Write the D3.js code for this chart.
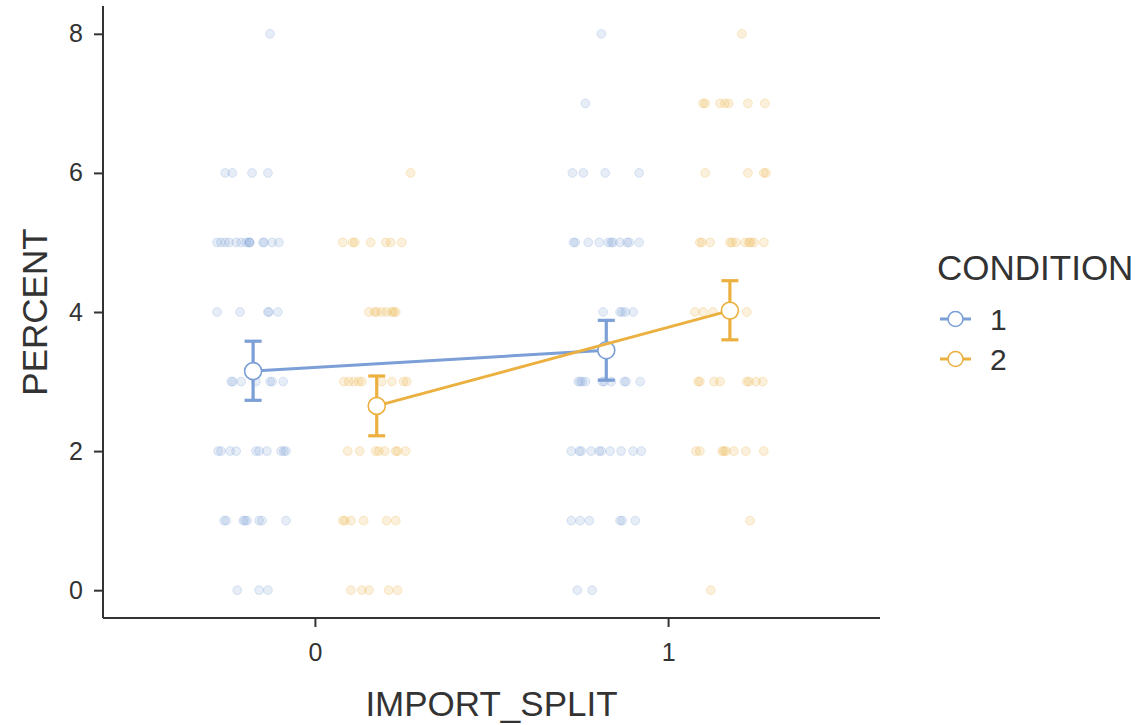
<!DOCTYPE html>
<html>
<head>
<meta charset="utf-8">
<script src="https://cdn.jsdelivr.net/npm/d3@7"></script>
<style>
  html, body { margin: 0; padding: 0; background: #fff; }
  svg { display: block; font-family: "Liberation Sans", Arial, Helvetica, sans-serif; }
</style>
</head>
<body>
<svg id="chart" width="1142" height="725"></svg>
<script>
// ---------- DATA ----------
const conditions = ["1", "2"];
const importSplit = [0, 1];
const yTicks = [0, 2, 4, 6, 8];
const xTickLabels = ["0", "1"];
const dodge = 0.175;

// group means and error bar bounds, index: [import_split]
const meanC1 = [3.15, 3.45];
const lowC1 = [2.73, 3.02];
const highC1 = [3.58, 3.88];
const meanC2 = [2.65, 4.02];
const lowC2 = [2.22, 3.60];
const highC2 = [3.08, 4.45];

// jittered raw observations: x (jittered IMPORT_SPLIT position), y (PERCENT)
const c1s0X = [-0.127,
  -0.254, -0.234, -0.178, -0.133,
  -0.277, -0.266, -0.254, -0.243, -0.223, -0.209, -0.195, -0.186, -0.186, -0.184, -0.147, -0.144, -0.121, -0.102,
  -0.277, -0.212, -0.133, -0.130, -0.105,
  -0.237, -0.232, -0.209, -0.167, -0.127, -0.121, -0.090,
  -0.274, -0.266, -0.240, -0.223, -0.167, -0.158, -0.136, -0.096, -0.088, -0.082,
  -0.257, -0.251, -0.203, -0.198, -0.192, -0.158, -0.150, -0.082,
  -0.220, -0.158, -0.133];
const c1s0Y = [8,
  6, 6, 6, 6,
  5, 5, 5, 5, 5, 5, 5, 5, 5, 5, 5, 5, 5, 5,
  4, 4, 4, 4, 4,
  3, 3, 3, 3, 3, 3, 3,
  2, 2, 2, 2, 2, 2, 2, 2, 2, 2,
  1, 1, 1, 1, 1, 1, 1, 1,
  0, 0, 0];

const c2s0X = [0.271,
  0.079, 0.107, 0.113, 0.158, 0.201, 0.215, 0.246,
  0.153, 0.169, 0.175, 0.189, 0.203, 0.218, 0.223, 0.229,
  0.082, 0.096, 0.110, 0.124, 0.133, 0.189, 0.218, 0.251, 0.260,
  0.093, 0.127, 0.172, 0.181, 0.198, 0.229, 0.234, 0.257,
  0.079, 0.085, 0.102, 0.138, 0.203, 0.229,
  0.102, 0.133, 0.153, 0.209, 0.234];
const c2s0Y = [6,
  5, 5, 5, 5, 5, 5, 5,
  4, 4, 4, 4, 4, 4, 4, 4,
  3, 3, 3, 3, 3, 3, 3, 3, 3,
  2, 2, 2, 2, 2, 2, 2, 2,
  1, 1, 1, 1, 1, 1,
  0, 0, 0, 0, 0];

const c1s1X = [0.811,
  0.766,
  0.729, 0.760, 0.822, 0.918,
  0.732, 0.737, 0.774, 0.805, 0.831, 0.839, 0.844, 0.864, 0.884, 0.890, 0.918,
  0.816, 0.864, 0.870, 0.879, 0.901,
  0.746, 0.751, 0.757, 0.766, 0.814, 0.819, 0.839, 0.876, 0.881, 0.921,
  0.726, 0.749, 0.754, 0.782, 0.805, 0.811, 0.836, 0.867, 0.901, 0.924,
  0.726, 0.751, 0.777, 0.864, 0.870, 0.907,
  0.743, 0.785];
const c1s1Y = [8,
  7,
  6, 6, 6, 6,
  5, 5, 5, 5, 5, 5, 5, 5, 5, 5, 5,
  4, 4, 4, 4, 4,
  3, 3, 3, 3, 3, 3, 3, 3, 3, 3,
  2, 2, 2, 2, 2, 2, 2, 2, 2, 2,
  1, 1, 1, 1, 1, 1,
  0, 0];

const c2s1X = [1.209,
  1.099, 1.105, 1.147, 1.161, 1.172, 1.226, 1.274,
  1.105, 1.226, 1.271, 1.277,
  1.090, 1.096, 1.119, 1.175, 1.181, 1.192, 1.218, 1.229, 1.234, 1.243, 1.271,
  1.076, 1.099, 1.127, 1.223,
  1.085, 1.090, 1.130, 1.147, 1.223, 1.229, 1.249, 1.268,
  1.079, 1.090, 1.153, 1.158, 1.164, 1.186, 1.220, 1.271,
  1.232,
  1.121];
const c2s1Y = [8,
  7, 7, 7, 7, 7, 7, 7,
  6, 6, 6, 6,
  5, 5, 5, 5, 5, 5, 5, 5, 5, 5, 5,
  4, 4, 4, 4,
  3, 3, 3, 3, 3, 3, 3, 3,
  2, 2, 2, 2, 2, 2, 2, 2,
  1,
  0];

// ---------- STYLE ----------
const colors = { "1": "#7b9fd6", "2": "#ebb040" };
const axisColor = "#333333";
const textColor = "#333333";

// ---------- SCALES ----------
const svg = d3.select("#chart");
const plot = { left: 103, right: 880, top: 6, bottom: 618 };
const x = d3.scaleLinear().domain([-0.6, 1.6]).range([plot.left, plot.right]);
const y = d3.scaleLinear().domain([-0.4, 8.4]).range([plot.bottom, plot.top]);
const color = d3.scaleOrdinal().domain(conditions).range([colors["1"], colors["2"]]);

// ---------- RAW POINTS ----------
const rawGroups = [
  { cond: "1", xs: c1s0X, ys: c1s0Y },
  { cond: "2", xs: c2s0X, ys: c2s0Y },
  { cond: "1", xs: c1s1X, ys: c1s1Y },
  { cond: "2", xs: c2s1X, ys: c2s1Y }
];
const pts = [];
rawGroups.forEach(g => g.xs.forEach((v, i) => pts.push({ cond: g.cond, x: v, y: g.ys[i] })));

svg.append("g").selectAll("circle").data(pts).join("circle")
  .attr("cx", d => x(d.x))
  .attr("cy", d => y(d.y))
  .attr("r", 4.4)
  .attr("fill", d => color(d.cond))
  .attr("fill-opacity", 0.19)
  .attr("stroke", d => color(d.cond))
  .attr("stroke-opacity", 0.25)
  .attr("stroke-width", 1);

// ---------- SUMMARY ----------
const summary = [
  { cond: "1", off: -dodge, mean: meanC1, low: lowC1, high: highC1 },
  { cond: "2", off: dodge, mean: meanC2, low: lowC2, high: highC2 }
];
const line = d3.line().x(d => x(d.x)).y(d => y(d.y));
summary.forEach(s => {
  const rows = importSplit.map((v, i) => ({ x: v + s.off, y: s.mean[i], lo: s.low[i], hi: s.high[i] }));
  svg.append("path").datum(rows)
    .attr("d", line)
    .attr("fill", "none")
    .attr("stroke", color(s.cond))
    .attr("stroke-width", 3);
  const eb = svg.append("g");
  rows.forEach(r => {
    eb.append("line").attr("x1", x(r.x)).attr("x2", x(r.x)).attr("y1", y(r.lo)).attr("y2", y(r.hi))
      .attr("stroke", color(s.cond)).attr("stroke-width", 3.2);
    [r.lo, r.hi].forEach(v => {
      eb.append("line").attr("x1", x(r.x) - 8.5).attr("x2", x(r.x) + 8.5).attr("y1", y(v)).attr("y2", y(v))
        .attr("stroke", color(s.cond)).attr("stroke-width", 3.2);
    });
  });
  svg.append("g").selectAll("circle").data(rows).join("circle")
    .attr("cx", d => x(d.x)).attr("cy", d => y(d.y)).attr("r", 8.5)
    .attr("fill", "#fff").attr("stroke", color(s.cond)).attr("stroke-width", 1.6);
});

// ---------- AXES ----------
const yAxis = svg.append("g").attr("transform", `translate(${plot.left},0)`)
  .call(d3.axisLeft(y).tickValues(yTicks).tickSize(9).tickPadding(11).tickFormat(d3.format("d")));
const xAxis = svg.append("g").attr("transform", `translate(0,${plot.bottom})`)
  .call(d3.axisBottom(x).tickValues(importSplit).tickSize(9).tickPadding(16).tickFormat((d, i) => xTickLabels[i]));
[yAxis, xAxis].forEach(a => {
  a.select(".domain").attr("stroke", axisColor).attr("stroke-width", 2);
  a.selectAll(".tick line").attr("stroke", axisColor).attr("stroke-width", 2);
  a.selectAll(".tick text").attr("fill", textColor).style("font-size", "25px")
    .style("font-family", "'Liberation Sans', Arial, sans-serif");
});
yAxis.select(".domain").attr("d", `M0,${plot.top}V${plot.bottom}`);
xAxis.select(".domain").attr("d", `M${plot.left},0H${plot.right}`);

// axis titles
svg.append("text").attr("x", (plot.left + plot.right) / 2).attr("y", 716)
  .attr("text-anchor", "middle").attr("fill", textColor).style("font-size", "35px")
  .text("IMPORT_SPLIT");
svg.append("text").attr("transform", `translate(47,${(plot.top + plot.bottom) / 2}) rotate(-90)`)
  .attr("text-anchor", "middle").attr("fill", textColor).style("font-size", "35px")
  .text("PERCENT");

// ---------- LEGEND ----------
const legend = svg.append("g").attr("transform", "translate(937,0)");
legend.append("text").attr("x", 0).attr("y", 280).attr("fill", textColor)
  .style("font-size", "35px").text("CONDITION");
conditions.forEach((c, i) => {
  const cy = 319 + i * 40;
  legend.append("line").attr("x1", 3).attr("x2", 34).attr("y1", cy).attr("y2", cy)
    .attr("stroke", color(c)).attr("stroke-width", 3);
  legend.append("circle").attr("cx", 18.5).attr("cy", cy).attr("r", 7.5)
    .attr("fill", "#fff").attr("stroke", color(c)).attr("stroke-width", 1.6);
  legend.append("text").attr("x", 53).attr("y", cy + 11).attr("fill", textColor)
    .style("font-size", "30px").text(c);
});
</script>
</body>
</html>
